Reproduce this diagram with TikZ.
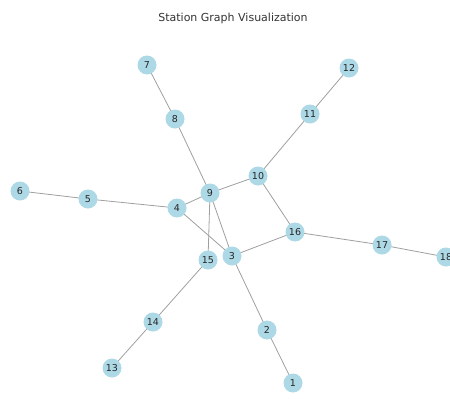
\documentclass[tikz,border=0pt]{standalone}
\usepackage{fontspec}
\setmainfont{DejaVu Sans}
\usetikzlibrary{backgrounds}
\definecolor{nodeblue}{HTML}{ADD8E6}
\tikzset{
  st/.style={circle, fill=nodeblue, minimum size=19pt, inner sep=0pt, font=\fontsize{9.5}{10}\selectfont, text=black!85},
  ed/.style={draw=gray!75, line width=0.8pt}
}
\begin{document}
\begin{tikzpicture}[x=1pt,y=-1pt]
\clip (0,0) rectangle (450,399);
\useasboundingbox (0,0) rectangle (450,399);
\node[font=\fontsize{11}{12}\selectfont, text=black!80] (title) at (233,18) {Station Graph Visualization};
\node[st] (n7) at (147,65) {7};
\node[st] (n8) at (175,119) {8};
\node[st] (n12) at (349,68) {12};
\node[st] (n11) at (310,114) {11};
\node[st] (n10) at (258,176) {10};
\node[st] (n9) at (210,193) {9};
\node[st] (n6) at (20,191) {6};
\node[st] (n5) at (88,199) {5};
\node[st] (n4) at (177,208) {4};
\node[st] (n16) at (295,232) {16};
\node[st] (n17) at (382,245) {17};
\node[st] (n18) at (446,257) {18};
\node[st] (n15) at (208,260) {15};
\node[st] (n3) at (232,256) {3};
\node[st] (n14) at (153,322) {14};
\node[st] (n2) at (267,330) {2};
\node[st] (n13) at (112,368) {13};
\node[st] (n1) at (293,383) {1};
\begin{pgfonlayer}{background}
\draw[ed] (n7.center) -- (n8.center);
\draw[ed] (n8.center) -- (n9.center);
\draw[ed] (n12.center) -- (n11.center);
\draw[ed] (n11.center) -- (n10.center);
\draw[ed] (n10.center) -- (n9.center);
\draw[ed] (n10.center) -- (n16.center);
\draw[ed] (n6.center) -- (n5.center);
\draw[ed] (n5.center) -- (n4.center);
\draw[ed] (n4.center) -- (n9.center);
\draw[ed] (n4.center) -- (n3.center);
\draw[ed] (n9.center) -- (n15.center);
\draw[ed] (n9.center) -- (n3.center);
\draw[ed] (n3.center) -- (n16.center);
\draw[ed] (n16.center) -- (n17.center);
\draw[ed] (n17.center) -- (n18.center);
\draw[ed] (n15.center) -- (n14.center);
\draw[ed] (n14.center) -- (n13.center);
\draw[ed] (n3.center) -- (n2.center);
\draw[ed] (n2.center) -- (n1.center);
\end{pgfonlayer}
\end{tikzpicture}
\end{document}
